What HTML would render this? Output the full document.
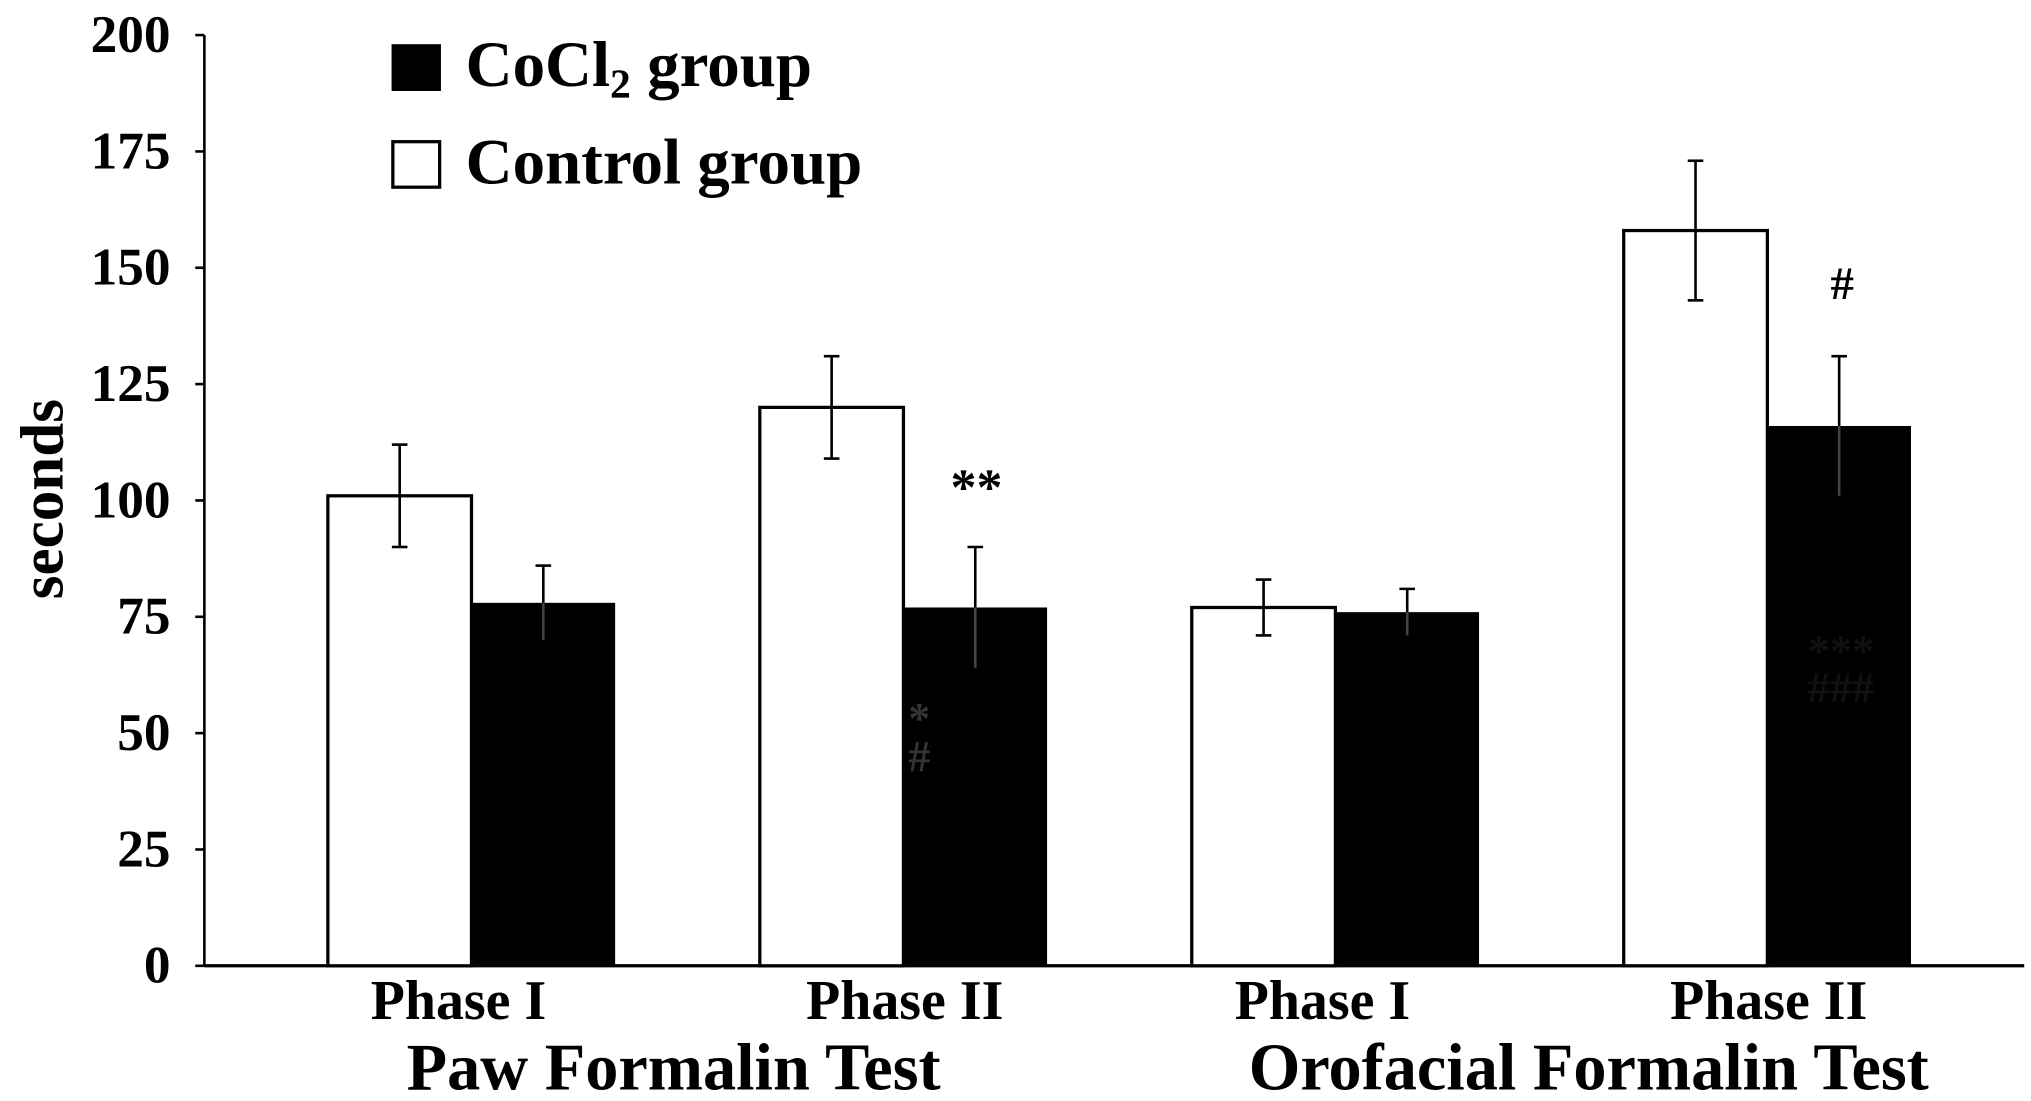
<!DOCTYPE html>
<html><head><meta charset="utf-8"><style>
html,body{margin:0;padding:0;background:#fff;}
svg{display:block;}
text{font-family:"Liberation Serif",serif;font-weight:bold;fill:#000;}
</style></head><body>
<svg id="chart" width="2031" height="1101" viewBox="0 0 1562 847" xmlns="http://www.w3.org/2000/svg">
<g id="axes"></g>
<g id="bars"></g>
<g>
<rect x="301" y="34" width="38" height="36" fill="#000"/>
<text x="358" y="66" font-size="50">CoCl<tspan font-size="32" dy="9">2</tspan><tspan dy="-9"> group</tspan></text>
<rect x="302" y="109" width="36" height="35" fill="#fff" stroke="#000" stroke-width="2.5"/>
<text x="358" y="141" font-size="50">Control group</text>
</g>
<text transform="translate(48,384) rotate(-90)" text-anchor="middle" font-size="47">seconds</text>
<text x="518" y="838" text-anchor="middle" font-size="51">Paw Formalin Test</text>
<text x="1222" y="838" text-anchor="middle" font-size="51">Orofacial Formalin Test</text>
<text x="751" y="388" text-anchor="middle" font-size="40">**</text>
<text x="1417" y="230" text-anchor="middle" font-size="36">#</text>
<text x="707" y="564" text-anchor="middle" font-size="34" style="fill:#333">*</text>
<text x="707" y="593" text-anchor="middle" font-size="34" style="fill:#333">#</text>
<text x="1416" y="512" text-anchor="middle" font-size="34" style="fill:#111">***</text>
<text x="1416" y="540" text-anchor="middle" font-size="34" style="fill:#111">###</text>
</svg>
<script>
const categories = ["Phase I", "Phase II", "Phase I", "Phase II"];
const controlValues = [101, 120, 77, 158];
const controlErrors = [11, 11, 6, 15];
const cocl2Values = [78, 77, 76, 116];
const cocl2Errors = [8, 13, 5, 15];
const yTicks = [0, 25, 50, 75, 100, 125, 150, 175, 200];

const NS = "http://www.w3.org/2000/svg";
const y0 = 743, yTop = 27, yMax = 200;
const yScale = v => y0 - (v / yMax) * (y0 - yTop);
const groupStart = 252, groupStep = 332.3, barW = 110.5;
const xControl = i => groupStart + i * groupStep;
const xCocl2 = i => xControl(i) + barW;

function mk(tag, attrs, parent) {
  const e = document.createElementNS(NS, tag);
  for (const k in attrs) e.setAttribute(k, attrs[k]);
  parent.appendChild(e);
  return e;
}
const axes = document.getElementById('axes');
const bars = document.getElementById('bars');

let yl = mk('line', {x1:157, y1:yTop, x2:157, y2:y0, stroke:'#000', 'stroke-width':2}, axes);


let xl = mk('line', {x1:157, y1:y0, x2:1557, y2:y0, stroke:'#000', 'stroke-width':2.5}, axes);



yTicks.forEach(t => {
  const y = yScale(t);
  const tk = mk('line', {x1:150, y1:y, x2:157, y2:y, stroke:'#000', 'stroke-width':2}, axes);
  
  
  const tx = mk('text', {x:131, y:y + 13, 'text-anchor':'end', 'font-size':41}, axes);
  tx.textContent = t;
  
  
});

function errBar(cx, v, e, color) {
  const g = mk('g', {stroke: color, 'stroke-width': 2}, bars);
  
  
  mk('line', {x1:cx, y1:yScale(v + e), x2:cx, y2:yScale(v - e)}, g);
  mk('line', {x1:cx - 6, y1:yScale(v + e), x2:cx + 6, y2:yScale(v + e)}, g);
  mk('line', {x1:cx - 6, y1:yScale(v - e), x2:cx + 6, y2:yScale(v - e)}, g);
}

categories.forEach((c, i) => {
  const r1 = mk('rect', {x:xControl(i), y:yScale(controlValues[i]), width:barW, height:y0 - yScale(controlValues[i]), fill:'#fff', stroke:'#000', 'stroke-width':2.5}, bars);
  
  
  const r2 = mk('rect', {x:xCocl2(i), y:yScale(cocl2Values[i]), width:barW, height:y0 - yScale(cocl2Values[i]), fill:'#000'}, bars);
  
  
  errBar(xControl(i) + barW / 2, controlValues[i], controlErrors[i], '#000');
  errBar(xCocl2(i) + barW / 2, cocl2Values[i], cocl2Errors[i], '#000');
  const lab = mk('text', {x:xCocl2(i) + (i % 2 === 0 ? -10 : 1), y:784, 'text-anchor':'middle', 'font-size':43}, axes);
  lab.textContent = c;
  
  
});
categories.forEach((c, i) => {
  const cx = xCocl2(i) + barW / 2;
  const g = mk('line', {x1:cx, y1:yScale(cocl2Values[i]), x2:cx, y2:yScale(cocl2Values[i] - cocl2Errors[i]), stroke:'#444', 'stroke-width':2}, bars);
  
  
});
</script>
</body></html>
